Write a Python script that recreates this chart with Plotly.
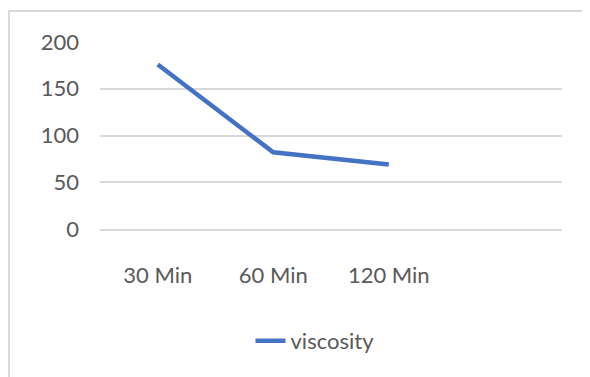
import plotly.graph_objects as go

categories = ["30 Min", "60 Min", "120 Min"]
viscosity = [176, 82, 69]
y_ticks = [0, 50, 100, 150, 200]

FONT = "Lato"
TXT = "#595959"
GRID = "#d9d9d9"

fig = go.Figure()
fig.add_trace(go.Scatter(
    x=categories, y=viscosity, mode="lines", name="viscosity",
    line=dict(color="#4472C4", width=4.5),
))

W, H = 590, 377
OFF = 8  # page body margin
L, R, T, B = 100 - OFF, 28 + OFF, 42 - OFF, 148 + OFF
pw, ph = W - L - R, H - T - B

def px_x(p):
    return (p - OFF - L) / pw

def px_y(p):
    return (H - B - (p - OFF)) / ph

fig.update_layout(
    width=W, height=H,
    margin=dict(l=L, r=R, t=T, b=B, autoexpand=False),
    paper_bgcolor="white", plot_bgcolor="white",
    font=dict(family=FONT, size=22, color=TXT),
    xaxis=dict(
        type="category", range=[-0.5, 3.5], showgrid=False,
        showline=True, linecolor=GRID, linewidth=1.5, tickangle=0,
        ticks="", ticklabelstandoff=26, zeroline=False,
    ),
    yaxis=dict(
        range=[0, 200], tickvals=y_ticks, showgrid=True, gridcolor=GRID,
        gridwidth=1.5, zeroline=False, showline=False, ticks="",
        ticklabelstandoff=20,
    ),
    showlegend=True,
    legend=dict(
        orientation="h", xref="paper", x=px_x(315), xanchor="center",
        y=px_y(341), yanchor="middle", font=dict(size=22, color=TXT),
        bgcolor="rgba(0,0,0,0)",
    ),
    shapes=[dict(
        type="rect", xref="paper", yref="paper",
        x0=px_x(9), x1=px_x(600), y0=px_y(11), y1=px_y(390),
        line=dict(color=GRID, width=2), fillcolor="rgba(0,0,0,0)", layer="below",
    )],
)

fig.write_html("out.html")
